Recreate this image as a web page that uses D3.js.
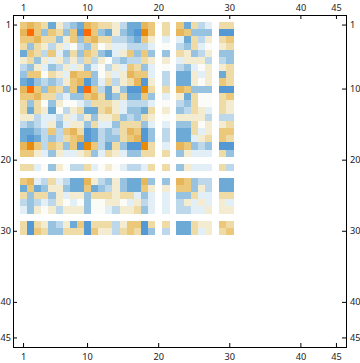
<!DOCTYPE html>
<html>
<head>
<meta charset="utf-8">
<script src="https://d3js.org/d3.v7.min.js"></script>
<style>
  html, body { margin: 0; padding: 0; background: #fff; }
  svg { display: block; }
  .tick text { font-family: "Noto Sans", sans-serif; font-size: 9.2px; fill: #222; }
</style>
</head>
<body>
<div id="d3-container"></div>
<script>
/* CONSTANTS AND GLOBALS */
const width = 360,
  height = 363;

// row and column numbers that actually hold values
const indices = [1,2,3,4,5,6,7,8,9,10,11,12,13,14,15,16,17,18,19,21,23,24,25,26,27,29,30];
const tickLabels = [1, 10, 20, 30, 40, 45];
const positions = d3.range(1, 46);

// colour levels, upper triangle, the matrix is symmetric
const upper = [
  [3,4,3,2,-4,1,-2,-3,-4,4,3,2,2,1,-2,-4,-4,4,3,2,3,-4,2,-2,-1,2,2],
  [6,3,-3,3,2,-3,3,-5,6,3,-3,-4,1,-3,-4,-5,5,3,2,4,3,-3,-3,-3,-5,-5],
  [4,2,2,-3,1,3,-3,3,4,2,2,-2,-2,-3,-4,3,1,-1,-1,-4,2,-2,1,2,3],
  [1,-2,1,-1,0,-2,-3,2,0,1,-1,-1,-2,-2,-2,-1,0,-2,-3,2,-1,0,1,2],
  [3,-1,-3,2,-3,3,2,-3,-4,-1,1,3,-3,3,-3,-3,2,1,-3,-2,1,-3,-3],
  [1,-2,1,-2,2,-2,1,0,-2,-3,-2,-2,2,1,1,-1,1,1,1,-2,-2,-3],
  [1,-1,1,-3,-1,0,-2,1,-1,3,2,-3,-1,0,-2,-3,-1,0,1,1,2],
  [4,3,3,-3,0,1,-1,1,4,3,3,-1,-2,-4,-4,1,-1,1,-4,2],
  [4,-5,-3,-1,2,-2,1,2,4,-5,1,-2,-4,-4,1,0,1,3,2],
  [6,3,-2,-4,1,-3,-5,-5,5,2,2,4,3,-3,-3,-3,-5,-5],
  [4,2,-4,-3,2,-4,-4,3,-3,-1,1,-4,2,0,0,2,3],
  [2,2,1,-1,-2,-2,-2,-1,0,-2,-3,2,0,0,2,1],
  [3,1,-1,-3,-3,-4,2,1,-3,-2,2,1,-1,2,1],
  [2,-3,-2,-3,2,1,0,1,1,1,1,-2,-2,-2],
  [2,2,2,-3,-1,-1,-3,-3,2,0,1,1,2],
  [4,3,-5,-3,-2,-4,-4,2,-1,1,3,3],
  [4,-5,-3,-2,-4,-4,-1,1,2,3,2],
  [5,2,-1,4,3,-3,-2,-3,-5,-5],
  [2,2,-3,1,-1,-1,-1,2,-3],
  [2,-3,1,-1,-1,-1,2,-2],
  [4,3,-3,-2,-2,-4,-4],
  [3,-3,1,-2,-4,-4],
  [2,-1,-1,2,2],
  [1,-1,1,-1],
  [1,1,1],
  [3,2],
  [3]
];

const levelDomain = [-5, -4, -3, -2, -1, 0, 1, 2, 3, 4, 5, 6];
const levelColors = ["#5599d4", "#6eaad6", "#98c3e0", "#bcd8ea", "#e2eff6", "#fbfbf8", "#f4ecd0", "#efdba5", "#ecc97a", "#e8b65a", "#e88a0c", "#ff6a05"];

/* SCALES */
const xScale = d3.scaleBand().domain(positions).range([20, 340]);
const yScale = d3.scaleBand().domain(positions).range([21.5, 341.5]);
const colorScale = d3.scaleOrdinal().domain(levelDomain).range(levelColors);

// flatten the triangle into cells, both sides of the diagonal
const cells = [];
upper.forEach((row, i) => {
  row.forEach((value, k) => {
    const j = i + k;
    cells.push({ row: indices[i], col: indices[j], value });
    if (i !== j) cells.push({ row: indices[j], col: indices[i], value });
  });
});

const svg = d3
  .select("#d3-container")
  .append("svg")
  .attr("width", width)
  .attr("height", height);

svg
  .append("g")
  .attr("shape-rendering", "crispEdges")
  .selectAll("rect")
  .data(cells)
  .join("rect")
  .attr("x", d => xScale(d.col))
  .attr("y", d => yScale(d.row))
  .attr("width", xScale.bandwidth() + 0.2)
  .attr("height", yScale.bandwidth() + 0.2)
  .attr("fill", d => colorScale(d.value));

/* AXES */
const frame = { left: 13, right: 346, top: 15, bottom: 347 };

function styleAxis(g) {
  g.select(".domain").remove();
  g.selectAll(".tick line").attr("stroke", "#000");
}

svg.append("g")
  .attr("transform", `translate(0,${frame.top})`)
  .call(d3.axisTop(xScale).tickValues(tickLabels).tickSize(-4).tickPadding(4))
  .call(styleAxis);

svg.append("g")
  .attr("transform", `translate(0,${frame.bottom})`)
  .call(d3.axisBottom(xScale).tickValues(tickLabels).tickSize(-4).tickPadding(6))
  .call(styleAxis);

svg.append("g")
  .attr("transform", `translate(${frame.left},0)`)
  .call(d3.axisLeft(yScale).tickValues(tickLabels).tickSize(-4).tickPadding(2))
  .call(styleAxis);

svg.append("g")
  .attr("transform", `translate(${frame.right},0)`)
  .call(d3.axisRight(yScale).tickValues(tickLabels).tickSize(-4).tickPadding(4))
  .call(styleAxis);

svg.append("rect")
  .attr("x", frame.left + 0.5)
  .attr("y", frame.top + 0.5)
  .attr("width", frame.right - frame.left)
  .attr("height", frame.bottom - frame.top)
  .attr("fill", "none")
  .attr("stroke", "#000");
</script>
</body>
</html>
